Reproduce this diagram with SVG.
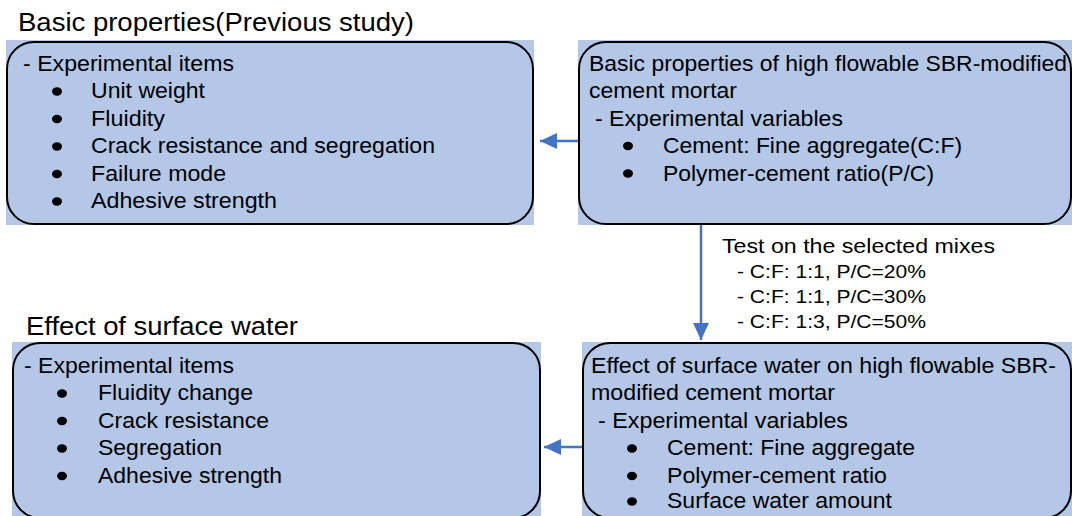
<svg xmlns="http://www.w3.org/2000/svg" width="1072" height="516" viewBox="0 0 1072 516">
<style>
.bg{fill:#B4C7E7;}
.box{fill:#B4C7E7;stroke:#000;stroke-width:2;}
text{font-family:"Liberation Sans",Arial,sans-serif;fill:#000;}
.t{font-size:22px;}
.title{font-size:26px;}
.lbl{font-size:21px;}
.sub{font-size:19px;}
.bul{fill:#000;}
.conn{stroke:#4472C4;stroke-width:2.5;fill:none;}
</style>
<defs>
<marker id="ah" markerUnits="userSpaceOnUse" markerWidth="17" markerHeight="16" refX="17" refY="8" orient="auto">
<path d="M0,0 L17,8 L0,16 z" fill="#4472C4"/>
</marker>
</defs>
<rect width="1072" height="516" fill="#fff"/>
<text class="title" x="18" y="31" textLength="396" lengthAdjust="spacingAndGlyphs">Basic properties(Previous study)</text>
<text class="title" x="26" y="335" textLength="272" lengthAdjust="spacingAndGlyphs">Effect of surface water</text>

<g id="node-basic-items">
<rect class="bg" x="6" y="40" width="528" height="185"/>
<rect class="box" x="7" y="42" width="526" height="182" rx="27" ry="27"/>
<text class="t" x="23" y="71" textLength="211" lengthAdjust="spacingAndGlyphs">- Experimental items</text>
<ellipse class="bul" cx="57" cy="91.5" rx="5" ry="4.2"/>
<text class="t" x="91" y="98" textLength="114" lengthAdjust="spacingAndGlyphs">Unit weight</text>
<ellipse class="bul" cx="57" cy="119" rx="5" ry="4.2"/>
<text class="t" x="91" y="125.5" textLength="74" lengthAdjust="spacingAndGlyphs">Fluidity</text>
<ellipse class="bul" cx="57" cy="146.5" rx="5" ry="4.2"/>
<text class="t" x="91" y="153" textLength="344" lengthAdjust="spacingAndGlyphs">Crack resistance and segregation</text>
<ellipse class="bul" cx="57" cy="174" rx="5" ry="4.2"/>
<text class="t" x="91" y="180.5" textLength="135" lengthAdjust="spacingAndGlyphs">Failure mode</text>
<ellipse class="bul" cx="57" cy="201.5" rx="5" ry="4.2"/>
<text class="t" x="91" y="208" textLength="186" lengthAdjust="spacingAndGlyphs">Adhesive strength</text>
</g>

<g id="node-basic-props">
<rect class="bg" x="578" y="40" width="494" height="185"/>
<rect class="box" x="579" y="42" width="492" height="182" rx="27" ry="27"/>
<text class="t" x="589" y="71" textLength="478" lengthAdjust="spacingAndGlyphs">Basic properties of high flowable SBR-modified</text>
<text class="t" x="589" y="98" textLength="148" lengthAdjust="spacingAndGlyphs">cement mortar</text>
<text class="t" x="595" y="125.5" textLength="248" lengthAdjust="spacingAndGlyphs">- Experimental variables</text>
<ellipse class="bul" cx="628" cy="146" rx="5" ry="4.2"/>
<text class="t" x="663" y="153" textLength="299" lengthAdjust="spacingAndGlyphs">Cement: Fine aggregate(C:F)</text>
<ellipse class="bul" cx="628" cy="173.5" rx="5" ry="4.2"/>
<text class="t" x="663" y="180.5" textLength="271" lengthAdjust="spacingAndGlyphs">Polymer-cement ratio(P/C)</text>
</g>

<g id="node-water-items">
<rect class="bg" x="12" y="342" width="529" height="174"/>
<rect class="box" x="13" y="343" width="527" height="175" rx="27" ry="27"/>
<text class="t" x="24" y="373" textLength="210" lengthAdjust="spacingAndGlyphs">- Experimental items</text>
<ellipse class="bul" cx="62" cy="393.5" rx="5" ry="4.2"/>
<text class="t" x="98" y="400" textLength="155" lengthAdjust="spacingAndGlyphs">Fluidity change</text>
<ellipse class="bul" cx="62" cy="421" rx="5" ry="4.2"/>
<text class="t" x="98" y="427.5" textLength="171" lengthAdjust="spacingAndGlyphs">Crack resistance</text>
<ellipse class="bul" cx="62" cy="448.5" rx="5" ry="4.2"/>
<text class="t" x="98" y="455" textLength="124" lengthAdjust="spacingAndGlyphs">Segregation</text>
<ellipse class="bul" cx="62" cy="476" rx="5" ry="4.2"/>
<text class="t" x="98" y="482.5" textLength="184" lengthAdjust="spacingAndGlyphs">Adhesive strength</text>
</g>

<g id="node-water-effect">
<rect class="bg" x="582" y="342" width="490" height="174"/>
<rect class="box" x="583" y="343" width="488" height="175" rx="27" ry="27"/>
<text class="t" x="591" y="373" textLength="465" lengthAdjust="spacingAndGlyphs">Effect of surface water on high flowable SBR-</text>
<text class="t" x="591" y="400" textLength="244" lengthAdjust="spacingAndGlyphs">modified cement mortar</text>
<text class="t" x="598" y="427.5" textLength="250" lengthAdjust="spacingAndGlyphs">- Experimental variables</text>
<ellipse class="bul" cx="632" cy="448.5" rx="5" ry="4.2"/>
<text class="t" x="667" y="455" textLength="248" lengthAdjust="spacingAndGlyphs">Cement: Fine aggregate</text>
<ellipse class="bul" cx="632" cy="476" rx="5" ry="4.2"/>
<text class="t" x="667" y="482.5" textLength="220" lengthAdjust="spacingAndGlyphs">Polymer-cement ratio</text>
<ellipse class="bul" cx="632" cy="501.5" rx="5" ry="4.2"/>
<text class="t" x="667" y="508" textLength="225" lengthAdjust="spacingAndGlyphs">Surface water amount</text>
</g>

<g id="connectors">
<line class="conn" x1="578" y1="141" x2="540" y2="141" marker-end="url(#ah)"/>
<line class="conn" x1="582" y1="447" x2="544" y2="447" marker-end="url(#ah)"/>
<line class="conn" x1="701" y1="225" x2="701" y2="340" marker-end="url(#ah)"/>
<text class="lbl" x="722" y="253" textLength="273" lengthAdjust="spacingAndGlyphs">Test on the selected mixes</text>
<text class="sub" x="737" y="278" textLength="189" lengthAdjust="spacingAndGlyphs">- C:F: 1:1, P/C=20%</text>
<text class="sub" x="737" y="303" textLength="189" lengthAdjust="spacingAndGlyphs">- C:F: 1:1, P/C=30%</text>
<text class="sub" x="737" y="328" textLength="189" lengthAdjust="spacingAndGlyphs">- C:F: 1:3, P/C=50%</text>
</g>
</svg>
